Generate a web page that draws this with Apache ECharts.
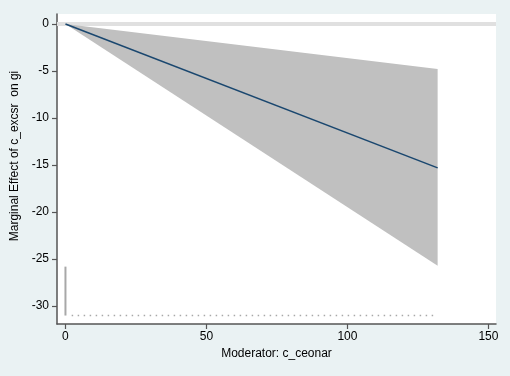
<!DOCTYPE html>
<html>
<head>
<meta charset="utf-8">
<script src="https://cdn.jsdelivr.net/npm/echarts@6/dist/echarts.min.js"></script>
<style>
html,body{margin:0;padding:0;background:#eaf2f3;}
#chart{width:510px;height:376px;}
</style>
</head>
<body>
<div id="chart"></div>
<script>
// Moderator values (x) where the estimate is drawn
var moderator = [0, 132];
// Marginal effect estimate
var effect = [0, -15.3];
// 95% CI bounds
var ciLower = [0, -25.7];
var ciUpper = [0, -4.8];
// Histogram of moderator (drawn at the bottom)
var histBase = -31;
var histSpikeX = [0];
var histSpikeTop = [-25.8];
var histRangeX = [0, 132];
// Tick labels
var xTicks = [0, 50, 100, 150];
var yTicks = [0, -5, -10, -15, -20, -25, -30];

var bandData = moderator.map(function (x, i) { return [x, ciLower[i], ciUpper[i]]; });
var effectData = moderator.map(function (x, i) { return [x, effect[i]]; });

var series = [
  {
    type: 'custom', data: bandData, silent: true, z: 2,
    encode: { x: 0, y: [1, 2] },
    renderItem: function (params, api) {
      if (params.dataIndex !== 0) return null;
      var pts = [];
      var i;
      for (i = 0; i < bandData.length; i++) pts.push(api.coord([bandData[i][0], bandData[i][2]]));
      for (i = bandData.length - 1; i >= 0; i--) pts.push(api.coord([bandData[i][0], bandData[i][1]]));
      return { type: 'polygon', shape: { points: pts }, style: { fill: '#c0c0c0', stroke: null } };
    },
    markLine: {
      silent: true, symbol: 'none', label: { show: false },
      lineStyle: { color: '#e0e0e0', width: 4, type: 'solid' },
      data: [{ yAxis: 0 }], z: 1
    }
  },
  {
    type: 'line', data: effectData, symbol: 'none',
    lineStyle: { color: '#1a476f', width: 1.6 }, z: 3
  },
  {
    type: 'line', data: [[histRangeX[0] + 2.2, histBase], [histRangeX[1], histBase]], symbol: 'none',
    lineStyle: { color: '#a8a8a8', width: 1.5, type: [1.5, 4.5] }, z: 3
  }
];
histSpikeX.forEach(function (x, i) {
  series.push({
    type: 'line', data: [[x, histBase], [x, histSpikeTop[i]]], symbol: 'none',
    lineStyle: { color: '#a8a8a8', width: 2 }, z: 3
  });
});

var font = 'Liberation Sans, Arial, sans-serif';
var chart = echarts.init(document.getElementById('chart'));
chart.setOption({
  backgroundColor: '#eaf2f3',
  animation: false,
  grid: { left: 57, right: 14, top: 14, bottom: 52, show: true, backgroundColor: '#ffffff', borderWidth: 0 },
  xAxis: {
    type: 'value', min: -3, max: 152.7,
    name: 'Moderator: c_ceonar', nameLocation: 'middle', nameGap: 22,
    nameTextStyle: { color: '#000', fontSize: 12, fontFamily: font },
    axisLine: { show: true, onZero: false, lineStyle: { color: '#555', width: 1.5 } },
    axisTick: { show: true, length: 5, customValues: xTicks, lineStyle: { color: '#555', width: 1.2 } },
    axisLabel: { customValues: xTicks, color: '#000', fontSize: 12, fontFamily: font, margin: 7 },
    splitLine: { show: false }
  },
  yAxis: {
    type: 'value', min: -31.9, max: 1.06,
    name: 'Marginal Effect of c_excsr  on gi', nameLocation: 'middle', nameGap: 33,
    nameTextStyle: { color: '#000', fontSize: 12, fontFamily: font, padding: [0, 0, 0, 26] },
    axisLine: { show: true, onZero: false, lineStyle: { color: '#555', width: 1.5 } },
    axisTick: { show: true, length: 5, customValues: yTicks, lineStyle: { color: '#555', width: 1.2 } },
    axisLabel: { customValues: yTicks, color: '#000', fontSize: 12, fontFamily: font, margin: 8 },
    splitLine: { show: false }
  },
  series: series
});
</script>
</body>
</html>
